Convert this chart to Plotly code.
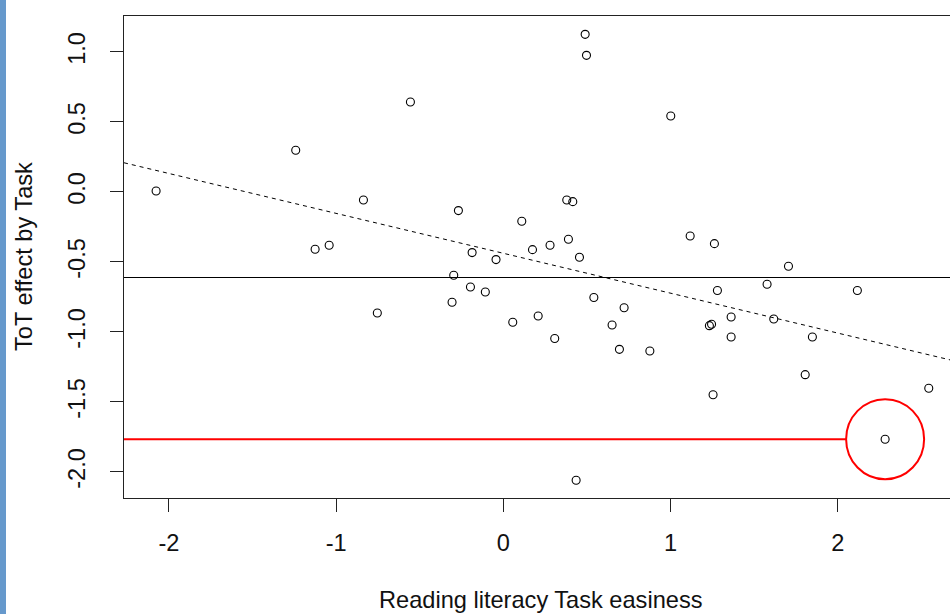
import plotly.graph_objects as go
import numpy as np

# ---- data ----
task_easiness = [-2.077, -1.242, -1.126, -1.042, -0.837, -0.754, -0.556, -0.307, -0.297, -0.269,
                 -0.197, -0.187, -0.108, -0.044, 0.056, 0.110, 0.174, 0.208, 0.279, 0.307,
                 0.379, 0.389, 0.415, 0.435, 0.455, 0.489, 0.497, 0.541, 0.650, 0.694,
                 0.722, 0.876, 1.001, 1.117, 1.232, 1.245, 1.254, 1.262, 1.280, 1.362,
                 1.362, 1.577, 1.617, 1.705, 1.805, 1.848, 2.117, 2.283, 2.544]
tot_effect = [0.007, 0.298, -0.409, -0.381, -0.057, -0.864, 0.643, -0.788, -0.595, -0.133,
              -0.679, -0.433, -0.714, -0.483, -0.931, -0.209, -0.412, -0.886, -0.381, -1.047,
              -0.057, -0.338, -0.069, -2.059, -0.466, 1.126, 0.976, -0.754, -0.950, -1.124,
              -0.827, -1.136, 0.543, -0.314, -0.955, -0.945, -1.448, -0.369, -0.704, -0.893,
              -1.036, -0.659, -0.907, -0.531, -1.305, -1.036, -0.704, -1.766, -1.402]

mean_effect = -0.611          # solid horizontal reference line
fit_intercept = -0.438        # dashed regression line
fit_slope = -0.285
highlight_x = 2.283           # circled task
highlight_y = -1.766

x_tick_vals = [-2, -1, 0, 1, 2]
x_tick_text = ["-2", "-1", "0", "1", "2"]
y_tick_vals = [-2.0, -1.5, -1.0, -0.5, 0.0, 0.5, 1.0]
y_tick_text = ["-2.0", "-1.5", "-1.0", "-0.5", "0.0", "0.5", "1.0"]

x_title = "Reading literacy Task easiness"
y_title = "ToT effect by Task"

# ---- layout constants ----
W, H = 950, 614
ML, MR, MT, MB = 124, 0, 16, 116
XR = [-2.269, 2.671]
YR = [-2.186, 1.257]
FONT = "Liberation Sans, Arial, sans-serif"
FS = 23.6
plot_w = W - ML - MR
plot_h = H - MT - MB
px_per_x = plot_w / (XR[1] - XR[0])
circle_r = 39

fig = go.Figure()

# horizontal mean line
fig.add_trace(go.Scatter(x=XR, y=[mean_effect, mean_effect], mode="lines",
                         line=dict(color="black", width=1), hoverinfo="skip", showlegend=False))
# dashed regression line
fx = np.array(XR)
fig.add_trace(go.Scatter(x=fx, y=fit_intercept + fit_slope * fx, mode="lines",
                         line=dict(color="black", width=1, dash="4px,4px"),
                         hoverinfo="skip", showlegend=False))
# points
fig.add_trace(go.Scatter(x=task_easiness, y=tot_effect, mode="markers",
                         marker=dict(symbol="circle-open", size=8, color="black",
                                     line=dict(width=1.1, color="black")),
                         showlegend=False))

# red highlight: line from left edge to circle + circle
fig.add_shape(type="line", xref="x", yref="y",
              x0=XR[0] - 2 / px_per_x, x1=highlight_x - circle_r / px_per_x,
              y0=highlight_y, y1=highlight_y,
              line=dict(color="red", width=2))
fig.add_shape(type="circle", xref="x", yref="y",
              xsizemode="pixel", ysizemode="pixel",
              xanchor=highlight_x, yanchor=highlight_y,
              x0=-circle_r, x1=circle_r, y0=-40, y1=40,
              line=dict(color="red", width=2))

# blue stripe at the far left of the image
fig.add_shape(type="rect", xref="paper", yref="paper",
              x0=-ML / plot_w, x1=(6 - ML) / plot_w,
              y0=-MB / plot_h, y1=1 + MT / plot_h,
              fillcolor="#6699cc", line=dict(width=0), layer="above")

# axis titles
fig.add_annotation(text=x_title, xref="paper", yref="paper",
                   x=(541 - ML) / plot_w, y=-(600 - (H - MB)) / plot_h,
                   xanchor="center", yanchor="middle", showarrow=False,
                   font=dict(family=FONT, size=FS, color="#111"))
fig.add_annotation(text=y_title, xref="paper", yref="paper",
                   x=(24 - ML) / plot_w, y=0.5, textangle=-90,
                   xanchor="center", yanchor="middle", showarrow=False,
                   font=dict(family=FONT, size=FS, color="#111"))

fig.update_layout(
    width=W, height=H,
    margin=dict(l=ML, r=MR, t=MT, b=MB),
    paper_bgcolor="white", plot_bgcolor="white",
    font=dict(family=FONT, size=FS, color="#111"),
    xaxis=dict(range=XR, showgrid=False, zeroline=False,
               showline=True, mirror=True, linecolor="#222", linewidth=1.3,
               ticks="outside", ticklen=13, tickwidth=1.3, tickcolor="#222",
               tickvals=x_tick_vals, ticktext=x_tick_text,
               ticklabelstandoff=11),
    yaxis=dict(range=YR, showgrid=False, zeroline=False,
               showline=True, mirror=False, linecolor="#222", linewidth=1.3,
               ticks="outside", ticklen=13, tickwidth=1.3, tickcolor="#222",
               tickvals=y_tick_vals, ticktext=y_tick_text, tickangle=-90,
               ticklabelstandoff=15),
)

fig.write_html("out.html", config={"displayModeBar": False},
               post_script="document.body.style.margin='0';document.body.style.overflow='hidden';")
